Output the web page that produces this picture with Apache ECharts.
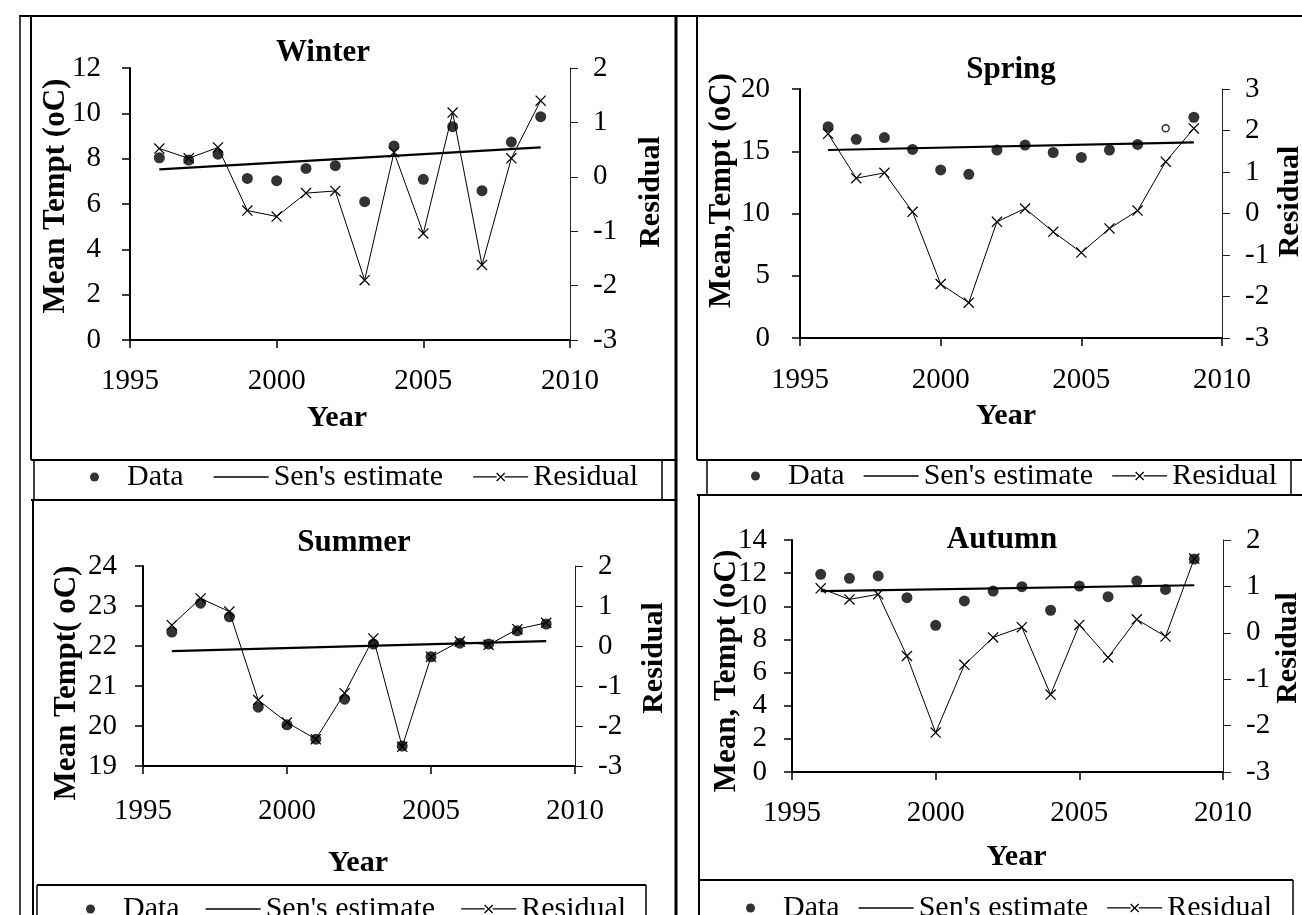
<!DOCTYPE html>
<html>
<head>
<meta charset="utf-8">
<script src="https://cdn.jsdelivr.net/npm/echarts@6/dist/echarts.min.js"></script>
<style>
  html, body { margin: 0; padding: 0; background: #fff; }
  #chart { width: 1302px; height: 915px; }
</style>
</head>
<body>
<div id="chart"></div>
<script>
// ---- data ----
const years = [1996, 1997, 1998, 1999, 2000, 2001, 2002, 2003, 2004, 2005, 2006, 2007, 2008, 2009];
const yearTicks = [1995, 2000, 2005, 2010];

const winterTemp     = [8.04, 7.94, 8.20, 7.13, 7.03, 7.57, 7.69, 6.10, 8.56, 7.09, 9.41, 6.59, 8.73, 9.85];
const winterResidual = [0.52, 0.34, 0.54, -0.62, -0.73, -0.30, -0.26, -1.90, 0.45, -1.04, 1.18, -1.62, 0.34, 1.40];
const winterSen      = [7.53, 8.50];          // Sen's estimate at first and last year
const winterTempTicks     = [0, 2, 4, 6, 8, 10, 12];
const winterResidualTicks = [-3, -2, -1, 0, 1, 2];

const springTemp     = [16.97, 15.96, 16.10, 15.15, 13.50, 13.15, 15.10, 15.50, 14.90, 14.50, 15.10, 15.55, 16.85, 17.73];
const springResidual = [1.92, 0.85, 0.98, 0.04, -1.70, -2.15, -0.20, 0.12, -0.44, -0.94, -0.36, 0.07, 1.25, 2.05];
const springSen      = [15.10, 15.72];
const springTempTicks     = [0, 5, 10, 15, 20];
const springResidualTicks = [-3, -2, -1, 0, 1, 2, 3];

const summerTemp     = [22.35, 23.07, 22.73, 20.47, 20.03, 19.67, 20.67, 22.05, 19.50, 21.73, 22.07, 22.05, 22.38, 22.55];
const summerResidual = [0.52, 1.19, 0.86, -1.35, -1.91, -2.33, -1.18, 0.19, -2.52, -0.27, 0.11, 0.03, 0.42, 0.58];
const summerSen      = [21.87, 22.12];
const summerTempTicks     = [19, 20, 21, 22, 23, 24];
const summerResidualTicks = [-3, -2, -1, 0, 1, 2];

const autumnTemp     = [11.93, 11.69, 11.83, 10.52, 8.85, 10.32, 10.92, 11.18, 9.76, 11.22, 10.58, 11.53, 11.02, 12.85];
const autumnResidual = [0.96, 0.72, 0.83, -0.50, -2.15, -0.69, -0.10, 0.12, -1.33, 0.17, -0.53, 0.29, -0.08, 1.60];
const autumnSen      = [10.92, 11.27];
const autumnTempTicks     = [0, 2, 4, 6, 8, 10, 12, 14];
const autumnResidualTicks = [-3, -2, -1, 0, 1, 2];

const seasonNames = ['Winter', 'Spring', 'Summer', 'Autumn'];
const tempAxisNames = ['Mean Tempt (oC)', 'Mean,Tempt (oC)', 'Mean Tempt( oC)', 'Mean, Tempt (oC)'];
const residualAxisName = 'Residual';
const xAxisName = 'Year';
const legendNames = ['Data', "Sen's estimate", 'Residual'];
const hollowPoint = { season: 1, year: 2008 };   // open marker in the Spring series

// ---- layout (pixels) ----
const SERIF = "'Liberation Serif', 'Times New Roman', Times, serif";
const layout = [
  { grid: { left: 130, top: 68,  width: 440, height: 272 }, title: [323, 53],  legend: [90, 462], legendGap: 30,
    yNameGap: 59, yNameShift: 8,   rNameGap: 66, rNameShift: 12, yearGap: 63, yearShift: -13, xLabelMargin: 27, yLabelMargin: 29 },
  { grid: { left: 800, top: 89,  width: 422, height: 249 }, title: [1011, 70], legend: [751, 461], legendGap: 19,
    yNameGap: 63, yNameShift: 23,  rNameGap: 53, rNameShift: 12, yearGap: 63, yearShift: -5,  xLabelMargin: 28, yLabelMargin: 30 },
  { grid: { left: 143, top: 566, width: 432, height: 200 }, title: [354, 543], legend: [86, 894], legendGap: 26,
    yNameGap: 61, yNameShift: -17, rNameGap: 64, rNameShift: 8,  yearGap: 82, yearShift: -1,  xLabelMargin: 31, yLabelMargin: 26 },
  { grid: { left: 792, top: 540, width: 431, height: 232 }, title: [1002, 540], legend: [746, 893], legendGap: 19,
    yNameGap: 50, yNameShift: -15, rNameGap: 50, rNameShift: 8,  yearGap: 70, yearShift: 9,   xLabelMargin: 27, yLabelMargin: 25 }
];

const panels = [
  { temp: winterTemp, resid: winterResidual, sen: winterSen, tTicks: winterTempTicks, rTicks: winterResidualTicks },
  { temp: springTemp, resid: springResidual, sen: springSen, tTicks: springTempTicks, rTicks: springResidualTicks },
  { temp: summerTemp, resid: summerResidual, sen: summerSen, tTicks: summerTempTicks, rTicks: summerResidualTicks },
  { temp: autumnTemp, resid: autumnResidual, sen: autumnSen, tTicks: autumnTempTicks, rTicks: autumnResidualTicks }
];

// thin "x" marker drawn as a filled path
const crossMark = 'path://M0,0.8L0.8,0L10,9.2L9.2,10ZM9.2,0L10,0.8L0.8,10L0,9.2Z';
// legend glyphs: plain rule, and rule with a small cross in the middle
const ruleIcon = 'path://M0,4H55V5.6H0Z';
const ruleCrossIcon = 'path://M0,4H23.5V5.3H0ZM31.5,4H55V5.3H31.5ZM23,1.1L23.9,0.2L32,8.3L31.1,9.2ZM31.1,0.2L32,1.1L23.9,9.2L23,8.3Z';

// shift text inside its box along its own reading direction
function shiftPad(s) { return s >= 0 ? [0, 0, 0, 2 * s] : [0, -2 * s, 0, 0]; }
function step(ticks) { return ticks[1] - ticks[0]; }
const plainNumber = v => String(v);

const titles = [], legends = [], grids = [], xAxes = [], yAxes = [], series = [];

panels.forEach((p, i) => {
  const L = layout[i];
  titles.push({
    text: seasonNames[i], left: L.title[0], top: L.title[1] - 15.5, padding: 0,
    textAlign: 'center', textVerticalAlign: 'top',
    textStyle: { fontFamily: SERIF, fontSize: 31, fontWeight: 'bold', color: '#000' }
  });
  legends.push({
    left: L.legend[0], top: L.legend[1], width: 640, padding: 0, orient: 'horizontal',
    itemWidth: 55, itemHeight: 9, itemGap: L.legendGap, selectedMode: false,
    textStyle: { fontFamily: SERIF, fontSize: 30, color: '#000' },
    data: [
      { name: legendNames[0], icon: 'circle' },
      { name: legendNames[1], icon: ruleIcon },
      { name: legendNames[2], icon: ruleCrossIcon }
    ]
  });
  grids.push(Object.assign({ containLabel: false, outerBoundsMode: 'none' }, L.grid));

  xAxes.push({
    gridIndex: i, type: 'value',
    min: yearTicks[0], max: yearTicks[yearTicks.length - 1], interval: step(yearTicks),
    name: xAxisName, nameLocation: 'middle', nameGap: L.yearGap, nameMoveOverlap: false,
    nameTextStyle: { fontFamily: SERIF, fontSize: 30, fontWeight: 'bold', color: '#000', padding: shiftPad(L.yearShift) },
    axisLine: { show: true, onZero: false, lineStyle: { color: '#000', width: 2 } },
    axisTick: { show: true, inside: false, length: 8, lineStyle: { color: '#000', width: 1.5 } },
    axisLabel: { margin: L.xLabelMargin, color: '#000', fontFamily: SERIF, fontSize: 29, formatter: plainNumber },
    splitLine: { show: false }
  });

  yAxes.push({
    gridIndex: i, type: 'value', position: 'left',
    min: p.tTicks[0], max: p.tTicks[p.tTicks.length - 1], interval: step(p.tTicks),
    name: tempAxisNames[i], nameLocation: 'middle', nameGap: L.yNameGap, nameMoveOverlap: false,
    nameTextStyle: { fontFamily: SERIF, fontSize: 31, fontWeight: 'bold', color: '#000', padding: shiftPad(L.yNameShift) },
    axisLine: { show: true, onZero: false, lineStyle: { color: '#000', width: 2 } },
    axisTick: { show: true, inside: false, length: 8, lineStyle: { color: '#000', width: 1.5 } },
    axisLabel: { margin: L.yLabelMargin, color: '#000', fontFamily: SERIF, fontSize: 29, formatter: plainNumber },
    splitLine: { show: false }
  });
  yAxes.push({
    gridIndex: i, type: 'value', position: 'right',
    min: p.rTicks[0], max: p.rTicks[p.rTicks.length - 1], interval: step(p.rTicks),
    name: residualAxisName, nameLocation: 'middle', nameGap: L.rNameGap, nameMoveOverlap: false,
    nameTextStyle: { fontFamily: SERIF, fontSize: 30, fontWeight: 'bold', color: '#000', padding: shiftPad(L.rNameShift) },
    axisLine: { show: true, onZero: false, lineStyle: { color: '#222', width: 1 } },
    axisTick: { show: true, inside: false, length: 8, lineStyle: { color: '#222', width: 1 } },
    axisLabel: { margin: 23, color: '#000', fontFamily: SERIF, fontSize: 29, formatter: plainNumber },
    splitLine: { show: false }
  });

  const residPts = years.map((y, k) => [y, p.resid[k]]);
  const tempPts = years.map((y, k) => {
    if (i === hollowPoint.season && y === hollowPoint.year) {
      return { value: [y, p.temp[k]], symbolSize: 7, itemStyle: { color: '#fff', borderColor: '#000', borderWidth: 1.5 } };
    }
    return [y, p.temp[k]];
  });
  const last = years.length - 1;

  series.push({
    name: legendNames[2], type: 'line', xAxisIndex: i, yAxisIndex: 2 * i + 1,
    data: residPts, symbol: crossMark, symbolSize: 11, showAllSymbol: true,
    itemStyle: { color: '#000' }, lineStyle: { color: '#000', width: 1 }, z: 2
  });
  series.push({
    name: legendNames[1], type: 'line', xAxisIndex: i, yAxisIndex: 2 * i,
    data: [[years[0], p.sen[0]], [years[last], p.sen[1]]], symbol: 'none',
    itemStyle: { color: '#000' }, lineStyle: { color: '#000', width: 2.2 }, z: 3
  });
  series.push({
    name: legendNames[0], type: 'scatter', xAxisIndex: i, yAxisIndex: 2 * i,
    data: tempPts, symbol: 'circle', symbolSize: 11,
    itemStyle: { color: '#000' }, z: 4
  });
});

// table rules around the four panels and their legends
const rules = [
  [19, 16, 1302, 16, 2],
  [20, 16, 20, 915, 1.5],
  [31, 16, 31, 460, 2],
  [31, 460, 676, 460, 2],
  [34, 460, 34, 500, 1.5],
  [662, 460, 662, 500, 1.5],
  [31, 500, 676, 500, 2],
  [33, 500, 33, 915, 2],
  [37, 885, 646, 885, 2],
  [37, 885, 37, 915, 1.5],
  [646, 885, 646, 915, 1.5],
  [676, 16, 676, 915, 3],
  [697, 16, 697, 460, 2],
  [697, 460, 1302, 460, 2],
  [707, 460, 707, 495, 1.5],
  [1291, 460, 1291, 495, 1.5],
  [697, 495, 1302, 495, 2],
  [699, 495, 699, 915, 2],
  [699, 880, 1293, 880, 2],
  [1293, 880, 1293, 915, 1.5]
];

const chart = echarts.init(document.getElementById('chart'), null, { renderer: 'canvas' });
chart.setOption({
  animation: false,
  backgroundColor: '#fff',
  title: titles,
  legend: legends,
  grid: grids,
  xAxis: xAxes,
  yAxis: yAxes,
  series: series,
  graphic: {
    elements: rules.map(r => ({
      type: 'line', silent: true, z: 10,
      shape: { x1: r[0], y1: r[1], x2: r[2], y2: r[3] },
      style: { stroke: '#000', lineWidth: r[4] }
    }))
  }
});
</script>
</body>
</html>
